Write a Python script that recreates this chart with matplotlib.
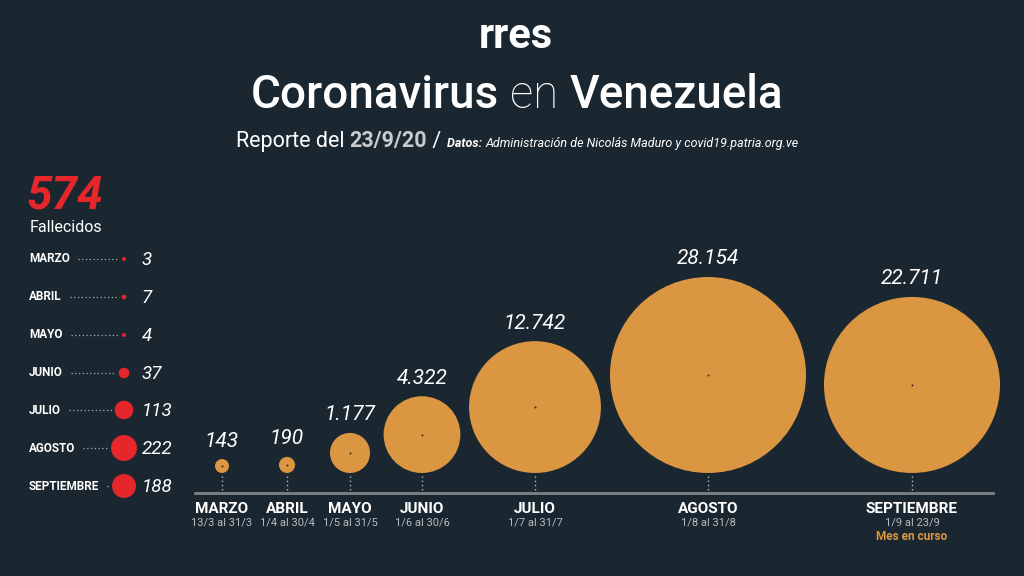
import matplotlib
matplotlib.use("Agg")
import matplotlib.pyplot as plt
import numpy as np

plt.rcParams['font.family'] = ['Roboto', 'DejaVu Sans']

# data: casos por mes (bubbles) and fallecidos por mes (left panel)
months = ['MARZO', 'ABRIL', 'MAYO', 'JUNIO', 'JULIO', 'AGOSTO', 'SEPTIEMBRE']
date_ranges = ['13/3 al 31/3', '1/4 al 30/4', '1/5 al 31/5', '1/6 al 30/6',
               '1/7 al 31/7', '1/8 al 31/8', '1/9 al 23/9']
cases = [143, 190, 1177, 4322, 12742, 28154, 22711]
case_labels = ['143', '190', '1.177', '4.322', '12.742', '28.154', '22.711']
deaths = [3, 7, 4, 37, 113, 222, 188]
total_deaths = 574
report_date = '23/9/20'

# layout (pixels, figure is 1024x576)
BG = '#1b2730'
ORANGE = '#da9641'
RED = '#e5262a'
x_pos = [222, 287, 350, 422, 535, 708, 912]
bubble_bottom = 473
base_y = 493
r_max = 98          # radius in px of largest bubble
row_y = [259, 297, 335, 373, 410, 448, 486]
dot_x = 124
dot_rmax = 13

fig = plt.figure(figsize=(10.24, 5.76), dpi=100, facecolor=BG)
ax = fig.add_axes([0, 0, 1, 1])
ax.set_facecolor(BG)
ax.set_xlim(0, 1024)
ax.set_ylim(576, 0)
ax.axis('off')
renderer = fig.canvas.get_renderer()
px2pt = 72 / fig.dpi


def right_edge(t):
    bb = t.get_window_extent(renderer)
    return ax.transData.inverted().transform((bb.x1, bb.y0))[0]


def width_of(t):
    bb = t.get_window_extent(renderer)
    inv = ax.transData.inverted()
    return inv.transform((bb.x1, 0))[0] - inv.transform((bb.x0, 0))[0]


def centered_row(parts, xc, y):
    # lay out a row of differently styled strings, centred on xc
    texts = [ax.text(0, y, s, ha='left', va='baseline', **kw) for s, kw in parts]
    widths = [width_of(t) for t in texts]
    x0 = xc - sum(widths) / 2
    for t, w in zip(texts, widths):
        t.set_x(x0)
        x0 += w


# header
ax.text(516, 37, 'rres', color='white', fontsize=30, fontweight='bold',
        ha='center', va='center')

centered_row([('Coronavirus', dict(fontsize=33, color='white', fontweight='medium')),
              (' en ', dict(fontsize=33, color='white', fontweight='light')),
              ('Venezuela', dict(fontsize=33, color='white', fontweight='medium'))],
             517, 108)

centered_row([('Reporte del ', dict(fontsize=15.5, color='white')),
              (report_date, dict(fontsize=15.5, color='#c9cccf', fontweight='bold')),
              (' / ', dict(fontsize=15.5, color='white')),
              ('Datos: ', dict(fontsize=9, color='white', fontweight='bold', fontstyle='italic')),
              ('Administración de Nicolás Maduro y covid19.patria.org.ve',
               dict(fontsize=9, color='white', fontstyle='italic'))],
             517, 147)

# left panel: fallecidos
ax.text(27, 196, str(total_deaths), color=RED, fontsize=33, fontweight='bold',
        fontstyle='italic', ha='left', va='center')
ax.text(30, 227, 'Fallecidos', color='white', fontsize=11.5, ha='left', va='center')

d = np.array(deaths, dtype=float)
dot_r = dot_rmax * np.sqrt(d / d.max())
ax.scatter([dot_x] * len(d), row_y, s=(2 * np.maximum(dot_r, 2) * px2pt) ** 2,
           color=RED, linewidths=0, zorder=3)
for m, v, y, r in zip(months, deaths, row_y, dot_r):
    t = ax.text(29, y, m, color='white', fontsize=8.5, fontweight='bold',
                ha='left', va='center')
    x1 = right_edge(t) + 8
    x2 = dot_x - max(r, 2) - 3
    ax.plot([x1, x2], [y, y], color='#aab0b5', lw=0.9, ls=(0, (1, 2)))
    ax.text(142, y + 1, str(v), color='white', fontsize=13.5, fontstyle='italic',
            ha='left', va='center')

# bubbles: casos
c = np.array(cases, dtype=float)
radii = r_max * np.sqrt(c / c.max())
cy = bubble_bottom - radii
ax.scatter(x_pos, cy, s=(2 * radii * px2pt) ** 2, color=ORANGE, linewidths=0,
           zorder=2)
ax.scatter(x_pos, cy, s=2, color='#3a2a1a', linewidths=0, zorder=3)
for x, y, r, lab in zip(x_pos, cy, radii, case_labels):
    ax.plot([x, x], [y + r + 3, base_y - 2], color='#b8bcc0', lw=1,
            ls=(0, (1, 2)))
    ax.text(x, y - r - 18, lab, color='white', fontsize=15, fontstyle='italic',
            ha='center', va='center')

ax.plot([195, 993], [base_y, base_y], color='#7c8288', lw=2)

for x, m, dr in zip(x_pos, months, date_ranges):
    ax.text(x, 509, m, color='white', fontsize=11, fontweight='bold',
            ha='center', va='center')
    ax.text(x, 523, dr, color='#b8bcc0', fontsize=8, ha='center', va='center')
ax.text(x_pos[-1], 537, 'Mes en curso', color=ORANGE, fontsize=8.5,
        fontweight='bold', ha='center', va='center')

fig.savefig('out.png', dpi=100, facecolor=BG)
